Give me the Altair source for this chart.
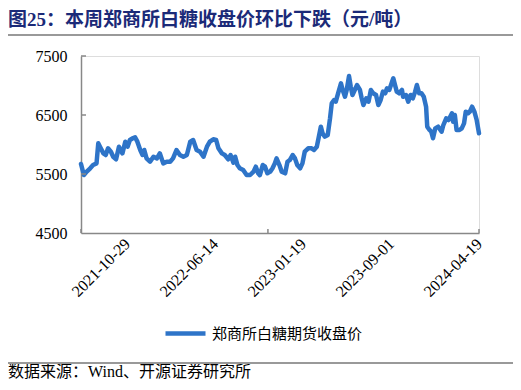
import altair as alt
import pandas as pd

# trading-day index (0..692) and close price
idx = [0, 5, 10, 16, 21, 27, 30, 33, 39, 43, 47, 52, 56, 61, 66, 69, 72, 77, 81, 85,
       90, 94, 98, 103, 107, 110, 114, 120, 126, 132, 137, 143, 149, 155, 160, 166, 172, 178, 184, 190,
       195, 201, 207, 213, 219, 224, 230, 235, 239, 245, 250, 256, 260, 265, 268, 272, 276, 282, 288, 294,
       300, 304, 308, 311, 316, 320, 324, 329, 333, 337, 340, 345, 349, 355, 359, 363, 368, 372, 376, 381,
       385, 389, 395, 401, 405, 410, 413, 417, 420, 424, 429, 433, 436, 440, 443, 447, 452, 455, 459, 462,
       466, 469, 472, 476, 480, 485, 488, 491, 496, 500, 504, 508, 513, 517, 521, 525, 529, 532, 536, 540,
       543, 546, 549, 553, 558, 560, 565, 569, 573, 577, 581, 584, 588, 592, 596, 600, 602, 606, 609, 612,
       616, 621, 627, 630, 635, 639, 645, 647, 650, 653, 658, 662, 666, 669, 673, 676, 680, 684, 688, 692]
price = [5670, 5483, 5540, 5597, 5652, 5680, 6020, 5963, 5850, 5822, 5935, 5878, 5793, 5750, 5963, 5907, 5850, 6048, 5963, 6076,
         6105, 6122, 6048, 5907, 5822, 5907, 5765, 5708, 5793, 5765, 5850, 5680, 5708, 5708, 5765, 5907, 5822, 5793, 5822, 6048,
         6076, 5907, 5878, 5793, 5963, 6048, 6088, 6076, 5935, 5850, 5822, 5750, 5822, 5692, 5793, 5652, 5597, 5568, 5483, 5483,
         5540, 5624, 5512, 5480, 5652, 5624, 5512, 5540, 5597, 5680, 5765, 5652, 5540, 5512, 5708, 5737, 5822, 5765, 5652, 5597,
         5680, 5878, 5935, 5935, 5907, 5963, 6105, 6302, 6190, 6133, 6162, 6444, 6698, 6754, 6726, 6868, 7037, 6924, 6810, 6924,
         7161, 6980, 6839, 6924, 7008, 6924, 6783, 6669, 6783, 6726, 6924, 6868, 6839, 6669, 6754, 6896, 6868, 6952, 6924, 7037,
         7122, 7008, 6896, 6868, 6924, 6810, 6839, 6726, 6839, 6783, 6896, 7008, 6868, 6868, 6810, 6641, 6302, 6246, 6218, 6105,
         6274, 6302, 6218, 6330, 6444, 6415, 6529, 6387, 6500, 6246, 6246, 6274, 6359, 6556, 6529, 6556, 6641, 6556, 6415, 6190]

label_idx = [80, 233, 386, 539, 692]
label_text = ["2021-10-29", "2022-06-14", "2023-01-19", "2023-09-01", "2024-04-19"]
xtick_idx = [0, 325, 692]
y_ticks = [4500, 5500, 6500, 7500]
series_name = "郑商所白糖期货收盘价"
title_text = "图25：本周郑商所白糖收盘价环比下跌（元/吨）"
source_text = "数据来源：Wind、开源证券研究所"

LINE = "#2E74C8"
AX = "#888888"
NAVY = "#1B2A78"
FONT = "Liberation Serif, Noto Sans CJK SC"

df = pd.DataFrame({"idx": idx, "price": price, "series": series_name})

expr = " : ".join(f"datum.value == {v} ? '{t}'" for v, t in zip(label_idx, label_text)) + " : ''"

xscale = alt.Scale(domain=[0, 692], nice=False, zero=False)
yscale = alt.Scale(domain=[4500, 7500], nice=False, zero=False)

line = alt.Chart(df).mark_line(strokeWidth=4.5, strokeJoin="round", strokeCap="round").encode(
    x=alt.X("idx:Q", scale=xscale,
            axis=alt.Axis(values=label_idx, labelExpr=expr, labelAngle=315, labelAlign="right",
                          labelBaseline="middle", labelPadding=8, ticks=False, grid=False, title=None,
                          domainColor=AX, domainWidth=1.5, labelFont="Liberation Serif",
                          labelFontSize=16, labelColor="black", labelOverlap=False)),
    y=alt.Y("price:Q", scale=yscale,
            axis=alt.Axis(values=y_ticks, ticks=False, grid=False, title=None, labelPadding=14,
                          format="d", domainColor=AX, domainWidth=1.5, labelFont="Liberation Serif",
                          labelFontSize=16, labelColor="black")),
    color=alt.Color("series:N", scale=alt.Scale(domain=[series_name], range=[LINE]),
                    legend=alt.Legend(title=None, orient="none", legendX=82, legendY=255,
                                      symbolType="stroke", symbolSize=1600, symbolStrokeWidth=4.5,
                                      labelFont=FONT, labelFontSize=15, labelColor="black",
                                      labelOffset=4)),
)

yt = alt.Chart(pd.DataFrame({"v": y_ticks[1:]})).mark_rule(color=AX, strokeWidth=1.5).encode(
    y=alt.Y("v:Q", scale=yscale), x=alt.value(0), x2=alt.value(5))
xt = alt.Chart(pd.DataFrame({"t": xtick_idx})).mark_rule(color=AX, strokeWidth=1.5).encode(
    x=alt.X("t:Q", scale=xscale), y=alt.value(177), y2=alt.value(173))

title = alt.Chart(pd.DataFrame({"t": [title_text]})).mark_text(
    align="left", baseline="middle", fontSize=19, fontWeight="bold", color=NAVY, font=FONT
).encode(x=alt.value(-73), y=alt.value(-36), text="t:N")

src = alt.Chart(pd.DataFrame({"t": [source_text]})).mark_text(
    align="left", baseline="middle", fontSize=16, color="black", font=FONT
).encode(x=alt.value(-73), y=alt.value(316), text="t:N")

rule_top = alt.Chart(pd.DataFrame({"a": [0]})).mark_rule(color="#999999", strokeWidth=2).encode(
    x=alt.value(-73), x2=alt.value(432), y=alt.value(-21))
rule_bot = alt.Chart(pd.DataFrame({"a": [0]})).mark_rule(color="#999999", strokeWidth=2).encode(
    x=alt.value(-73), x2=alt.value(432), y=alt.value(307))

chart = alt.layer(line, yt, xt, title, src, rule_top, rule_bot).properties(
    width=398, height=177,
    autosize=alt.AutoSizeParams(type="none"),
    padding={"left": 73, "top": 48, "right": 34, "bottom": 149},
).configure_view(stroke=None).configure(background="white")

chart.save("out.html", embed_options={"renderer": "svg", "actions": False})
